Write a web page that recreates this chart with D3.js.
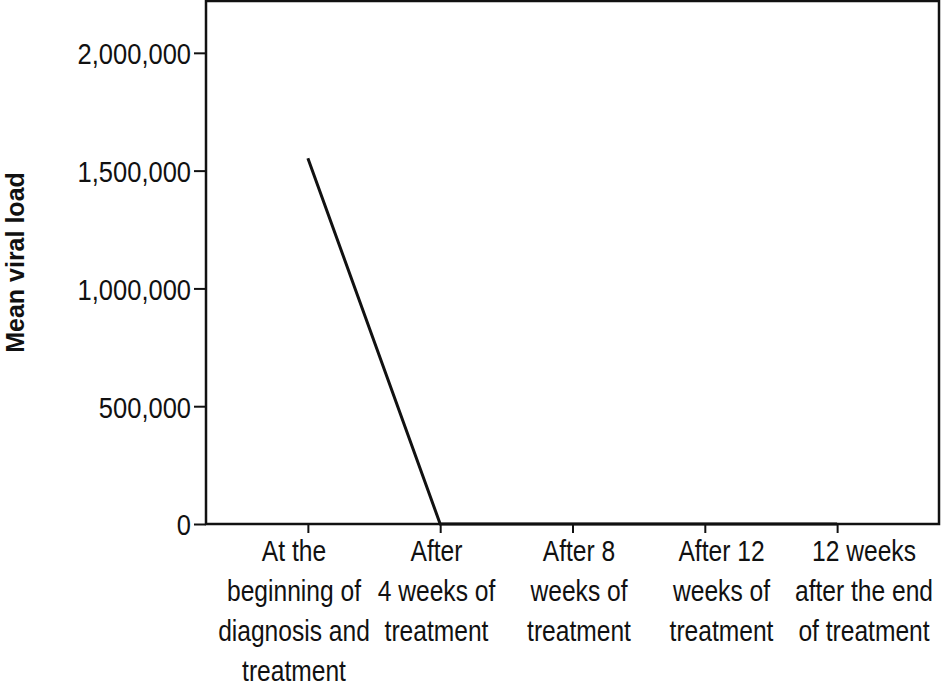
<!DOCTYPE html>
<html>
<head>
<meta charset="utf-8">
<script src="https://cdn.jsdelivr.net/npm/d3@7"></script>
<style>
  html, body { margin: 0; padding: 0; background: #fff; }
  svg { display: block; }
  .tick text, .xlabel { font-family: "Liberation Sans", Arial, sans-serif; font-size: 30px; fill: #111; }
</style>
</head>
<body>
<svg id="chart" width="943" height="684"></svg>
<script>
const categories = [
  ["At the", "beginning of", "diagnosis and", "treatment"],
  ["After", "4 weeks of", "treatment"],
  ["After 8", "weeks of", "treatment"],
  ["After 12", "weeks of", "treatment"],
  ["12 weeks", "after the end", "of treatment"]
];
const meanViralLoad = [1553000, 0, 0, 0, 0];
const yTicks = [0, 500000, 1000000, 1500000, 2000000];
const yMax = 2220000;
const yTitle = "Mean viral load";

const svg = d3.select("#chart");
const plotLeft = 206, plotRight = 939, plotTop = 1, plotBottom = 524;
const narrowX = 0.82, narrowY = 0.85; // horizontal condensing of label glyphs
const keys = categories.map((c, i) => i);

const x = d3.scalePoint().domain(keys).range([plotLeft, plotRight]).padding(0.77);
// the category labels sit in their own evenly spaced row, slightly wider than the tick spacing
const xLabel = d3.scalePoint().domain(keys).range([294, 864]);
const y = d3.scaleLinear().domain([0, yMax]).range([plotBottom, plotTop]);

// plot frame
svg.append("rect")
  .attr("x", plotLeft).attr("y", plotTop)
  .attr("width", plotRight - plotLeft).attr("height", plotBottom - plotTop)
  .attr("fill", "none").attr("stroke", "#111").attr("stroke-width", 2.5);

// y axis
const yAxis = svg.append("g")
  .attr("transform", `translate(${plotLeft},0)`)
  .call(d3.axisLeft(y).tickValues(yTicks).tickSize(12).tickPadding(3).tickFormat(d3.format(",")));
yAxis.select(".domain").remove();
yAxis.selectAll(".tick line").attr("stroke", "#111").attr("stroke-width", 2);
yAxis.selectAll(".tick text")
  .attr("dy", "0.36em")
  .attr("x", -15 / narrowY)
  .attr("transform", `scale(${narrowY},1)`);

// x axis ticks
const xAxis = svg.append("g")
  .attr("transform", `translate(0,${plotBottom})`)
  .call(d3.axisBottom(x).tickSize(9).tickFormat(""));
xAxis.select(".domain").remove();
xAxis.selectAll(".tick line").attr("stroke", "#111").attr("stroke-width", 2);
xAxis.selectAll(".tick text").remove();

// x category labels
svg.append("g")
  .selectAll("text")
  .data(keys)
  .join("text")
  .attr("class", "xlabel")
  .attr("text-anchor", "middle")
  .attr("transform", d => `translate(${xLabel(d)},${plotBottom}) scale(${narrowX},1)`)
  .each(function(d) {
    const t = d3.select(this);
    categories[d].forEach((line, i) => {
      t.append("tspan").attr("x", 0).attr("y", 37 + i * 40).text(line);
    });
  });

// line
const line = d3.line().x((d, i) => x(i)).y(d => y(d));
svg.append("path")
  .datum(meanViralLoad)
  .attr("d", line)
  .attr("fill", "none")
  .attr("stroke", "#111")
  .attr("stroke-width", 3);

// y title
svg.append("text")
  .attr("transform", `translate(24,${(plotTop + plotBottom) / 2}) rotate(-90)`)
  .attr("text-anchor", "middle")
  .attr("font-family", "Liberation Sans, Arial, sans-serif")
  .attr("font-weight", "bold")
  .attr("font-size", 25)
  .attr("fill", "#111")
  .text(yTitle);
</script>
</body>
</html>
